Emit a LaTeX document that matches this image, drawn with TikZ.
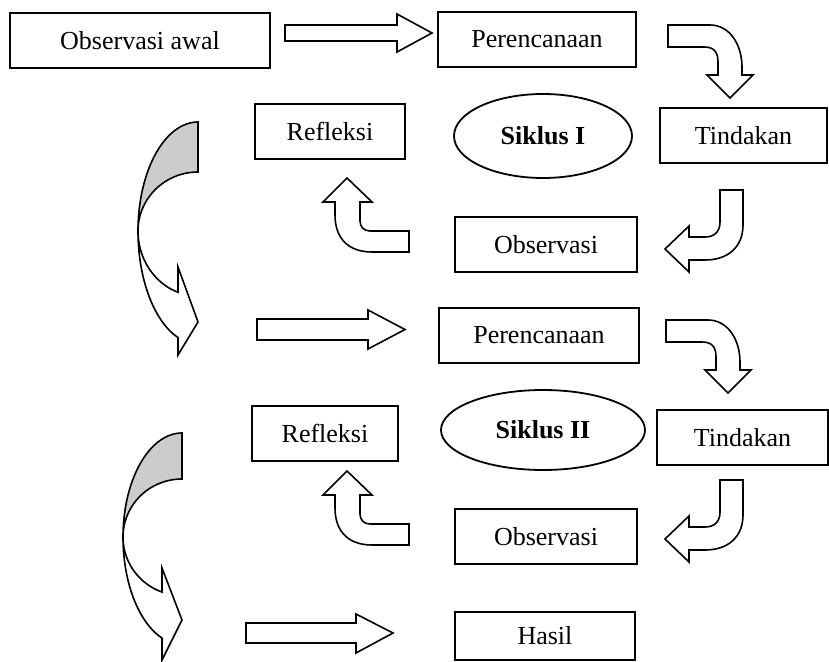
\documentclass[tikz,border=0pt]{standalone}
\usepackage{fontspec}
\setmainfont{Liberation Serif}
\usetikzlibrary{shapes.geometric}
\tikzset{
  box/.style={draw, line width=0.9pt, inner sep=0pt, minimum height=27.5pt,
    font=\fontsize{13}{15}\selectfont},
  oval/.style={draw, ellipse, line width=0.9pt, inner sep=0pt,
    font=\fontsize{13}{15}\selectfont\bfseries},
  blk/.style={draw, line width=0.8pt, fill=white, line join=miter},
  bendDR/.pic={
    \draw[blk] (668,25) -- (710,25) .. controls (730,25) and (742,45) .. (742,67)
      -- (742,75) -- (753,75) -- (730,98) -- (707,75) -- (718,75) -- (718,62)
      .. controls (718,52) and (714,47) .. (704,47) -- (668,47) -- cycle;
  },
  bendDL/.pic={
    \draw[blk] (720,190) -- (743,190) -- (743,225) .. controls (743,247) and (728,260) .. (705,260)
      -- (689,260) -- (689,272) -- (665,249) -- (689,226) -- (689,237) -- (705,237)
      .. controls (714,237) and (720,232) .. (720,222) -- cycle;
  },
  bendUL/.pic={
    \draw[blk] (409,231) -- (370,231) .. controls (364,231) and (360,227) .. (360,221)
      -- (360,202) -- (372,202) -- (347,178) -- (323,202) -- (335,202) -- (335,215)
      .. controls (335,238) and (348,252) .. (372,252) -- (409,252) -- cycle;
  }
}
\begin{document}
\begin{tikzpicture}[x=0.5pt, y=-0.5pt]
\useasboundingbox (0,0) rectangle (829,662);

% boxes
\node[box, minimum width=130pt] (obsawal) at (140,40.5) {Observasi awal};
\node[box, minimum width=99pt] (per1) at (537,39.5) {Perencanaan};
\node[box, minimum width=75pt] (ref1) at (330,131.5) {Refleksi};
\node[oval, minimum width=89pt, minimum height=42pt] (sik1) at (543,136) {Siklus I};
\node[box, minimum width=83.5pt] (tind1) at (743.5,135.5) {Tindakan};
\node[box, minimum width=91pt] (obs1) at (546,244.5) {Observasi};
\node[box, minimum width=100pt] (per2) at (539,335.5) {Perencanaan};
\node[box, minimum width=73pt] (ref2) at (325,433.5) {Refleksi};
\node[oval, minimum width=102pt, minimum height=40pt] (sik2) at (543,430) {Siklus II};
\node[box, minimum width=85.5pt] (tind2) at (742.5,437.5) {Tindakan};
\node[box, minimum width=91pt] (obs2) at (546,536.5) {Observasi};
\node[box, minimum width=90pt, minimum height=24pt] (hasil) at (545,636) {Hasil};

% straight block arrows
\draw[blk] (285,25) -- (397,25) -- (397,14) -- (432,33) -- (397,52) -- (397,41) -- (285,41) -- cycle;
\draw[blk] (257,319) -- (368,319) -- (368,310) -- (405,329.5) -- (368,349) -- (368,340) -- (257,340) -- cycle;
\draw[blk] (246,623) -- (356,623) -- (356,614) -- (393,633) -- (356,653) -- (356,643) -- (246,643) -- cycle;

% bent arrows
\pic at (0,0) {bendDR};
\pic at (-2,295) {bendDR};
\pic at (0,0) {bendDL};
\pic at (0,290) {bendDL};
\pic at (0,0) {bendUL};
\pic at (0,293) {bendUL};

% big curved arrow 1
\draw[blk, fill=black!20] plot[domain=270:180, samples=40] ({198+60*cos(\x)},{231+109*sin(\x)})
  -- plot[domain=180:270, samples=40] ({198+60*cos(\x)},{231+59*sin(\x)}) -- cycle;
\draw[blk] plot[domain=180:109.47, samples=40] ({198+60*cos(\x)},{231+113*sin(\x)})
  -- (178,355) -- (198,322) -- (178,267)
  -- plot[domain=109.47:180, samples=40] ({198+60*cos(\x)},{231+65*sin(\x)}) -- cycle;

% big curved arrow 2
\draw[blk, fill=black!20] plot[domain=270:180, samples=40] ({182+59*cos(\x)},{537+104*sin(\x)})
  -- plot[domain=180:270, samples=40] ({182+59*cos(\x)},{537+58*sin(\x)}) -- cycle;
\draw[blk] plot[domain=180:109.8, samples=40] ({182+59*cos(\x)},{537+107.4*sin(\x)})
  -- (162,660) -- (182,620) -- (162,568)
  -- plot[domain=109.8:180, samples=40] ({182+59*cos(\x)},{537+58.5*sin(\x)}) -- cycle;
\end{tikzpicture}
\end{document}
